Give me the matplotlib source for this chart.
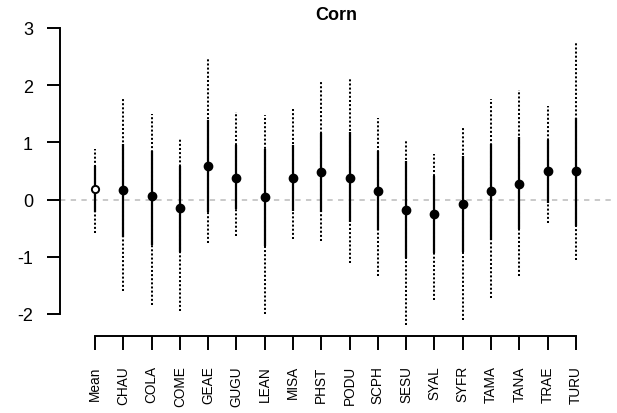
import matplotlib.pyplot as plt

plt.rcParams['font.family'] = ['Liberation Sans', 'DejaVu Sans']

# species codes along the x axis
labels = ['Mean', 'CHAU', 'COLA', 'COME', 'GEAE', 'GUGU', 'LEAN', 'MISA', 'PHST',
          'PODU', 'SCPH', 'SESU', 'SYAL', 'SYFR', 'TAMA', 'TANA', 'TRAE', 'TURU']
# point estimates
est = [0.19, 0.16, 0.06, -0.15, 0.58, 0.37, 0.04, 0.37, 0.48,
       0.37, 0.15, -0.18, -0.25, -0.07, 0.15, 0.28, 0.50, 0.50]
# inner interval (solid)
lo_in = [-0.22, -0.65, -0.80, -0.92, -0.22, -0.16, -0.82, -0.20, -0.22,
         -0.39, -0.54, -1.03, -0.94, -0.92, -0.70, -0.51, -0.06, -0.46]
hi_in = [0.58, 0.98, 0.85, 0.58, 1.40, 0.95, 0.89, 0.95, 1.17,
         1.18, 0.85, 0.67, 0.42, 0.76, 0.98, 1.10, 1.05, 1.43]
# outer interval (dotted)
lo_out = [-0.58, -1.59, -1.85, -1.94, -0.76, -0.64, -2.00, -0.69, -0.73,
          -1.10, -1.34, -2.20, -1.75, -2.10, -1.72, -1.33, -0.41, -1.06]
hi_out = [0.89, 1.76, 1.50, 1.08, 2.48, 1.53, 1.48, 1.61, 2.06,
          2.12, 1.43, 1.03, 0.79, 1.26, 1.76, 1.91, 1.64, 2.74]

W, H = 617, 414
fig = plt.figure(figsize=(W / 100, H / 100), dpi=100)
# plot region in pixels: left 60, right 613, top 29, bottom 337
ax = fig.add_axes([60 / W, 1 - 337 / H, (613 - 60) / W, (337 - 29) / H])

x = list(range(len(labels)))
ax.set_xlim(-1.237, 18.31)
ax.set_ylim(-2.385, 3)

ax.axhline(0, color='#bbbbbb', lw=1.1, linestyle=(0, (3.5, 3.5)), zorder=1)

for i in x:
    ax.plot([i, i], [lo_out[i], hi_out[i]], color='black', lw=1.45,
            linestyle=(0, (1, 1.05)), clip_on=False, zorder=2)
    ax.plot([i, i], [lo_in[i], hi_in[i]], color='black', lw=1.6,
            solid_capstyle='butt', zorder=3)

ax.plot(x[1:], est[1:], 'o', color='black', ms=6.0, zorder=4)
ax.plot(x[0], est[0], 'o', mfc='white', mec='black', mew=1.4, ms=5.2, zorder=4)

for s in ['top', 'right']:
    ax.spines[s].set_visible(False)
ax.spines['left'].set_bounds(-2, 3)
ax.spines['bottom'].set_bounds(0, 17)
ax.spines['left'].set_linewidth(1.4)
ax.spines['bottom'].set_linewidth(1.4)

ax.set_yticks([-2, -1, 0, 1, 2, 3])
ax.set_yticklabels(['-2', '-1', '0', '1', '2', '3'])
ax.set_xticks(x)
ax.set_xticklabels(labels, rotation=90)
ax.tick_params(axis='y', length=9.5, width=1.4, pad=10, labelsize=13)
ax.tick_params(axis='x', length=10, width=1.4, pad=11, labelsize=9.8)

fig.text(336 / W, 1 - 15 / H, 'Corn', ha='center', va='center',
         fontsize=13, fontweight='bold')

fig.savefig('out.png', dpi=100)
